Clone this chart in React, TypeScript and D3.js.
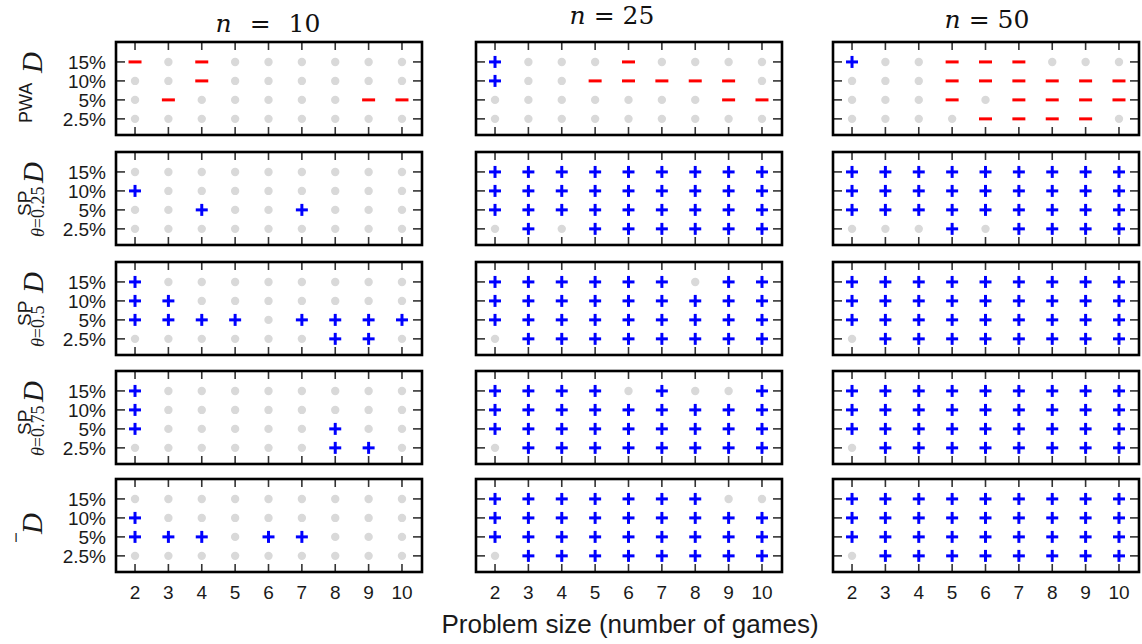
import React from "react";
import * as d3 from "d3";

// x: problem size (number of games); y: significance levels
const games = [2, 3, 4, 5, 6, 7, 8, 9, 10];
const levelsTopDown = ["15%", "10%", "5%", "2.5%"];
const sizeTitles = ["10", "25", "50"];
const xAxisTitle = "Problem size (number of games)";

// Each panel: 4 rows (15%, 10%, 5%, 2.5%), 9 columns (games 2..10)
// '+' significantly better, '-' significantly worse, '.' no significant difference
const pwaRows = [
  ["-.-......", "..-......", ".-.....--", "........."],
  ["+...-....", "+..-----.", ".......--", "........."],
  ["+..---...", "...------", "...-.----", "....----."],
];
const sp025Rows = [
  [".........", "+........", "..+..+...", "........."],
  ["+++++++++", "+++++++++", "+++++++++", ".+.++++++"],
  ["+++++++++", "+++++++++", "+++++++++", "...+.++++"],
];
const sp05Rows = [
  ["+........", "++.......", "++++.++++", "......++."],
  ["++++++.++", "+++++++++", "+++++++++", ".++++++++"],
  ["+++++++++", "+++++++++", "+++++++++", ".++++++++"],
];
const sp075Rows = [
  ["+........", "+........", "+.....+..", "......++."],
  ["++++.+..+", "+++++++++", "+++++++++", ".++++++++"],
  ["+++++++++", "+++++++++", "+++++++++", ".++++++++"],
];
const iRows = [
  [".........", "+........", "+++.++...", "........."],
  ["+++++++..", "+++++++++", "+++++++++", ".++++++++"],
  ["+++++++++", "+++++++++", "+++++++++", ".++++++++"],
];

const methods = [
  { key: "PWA", rows: pwaRows, theta: "" },
  { key: "SP", rows: sp025Rows, theta: "0.25" },
  { key: "SP", rows: sp05Rows, theta: "0.5" },
  { key: "SP", rows: sp075Rows, theta: "0.75" },
  { key: "I", rows: iRows, theta: "" },
];

const W = 1142;
const H = 644;
const panelLefts = [116, 476, 833];
const panelW = 306;
const panelTops = [42, 152, 262, 371, 479];
const panelH = 93;
const titlePos = [
  { x: 268, y: 32, ws: 10 },
  { x: 612, y: 24, ws: 0 },
  { x: 987, y: 28, ws: 0 },
];

const SANS = "'Liberation Sans', Arial, sans-serif";
const SERIF = "'Liberation Serif', 'Times New Roman', serif";
const DSERIF = "'DejaVu Serif', serif";
const BLUE = "#0000ff";
const RED = "#ff0000";
const GREY = "#d9d9d9";
const TICK = "#333";

function Panel({ left, top, rows, showY, showX }) {
  const x = d3.scaleLinear().domain([1.43, 10.6]).range([left, left + panelW]);
  const yIdx = d3.scaleLinear().domain([-0.85, 4.05]).range([top + panelH, top]);
  const rowY = (r) => yIdx(3 - r);
  return (
    <g>
      <rect x={left} y={top} width={panelW} height={panelH} fill="#fff" />
      {games.map((g) => (
        <g key={"t" + g}>
          <line x1={x(g)} x2={x(g)} y1={top} y2={top + 8} stroke={TICK} strokeWidth={1.6} />
          <line x1={x(g)} x2={x(g)} y1={top + panelH} y2={top + panelH - 8} stroke={TICK} strokeWidth={1.6} />
        </g>
      ))}
      {levelsTopDown.map((lv, r) => (
        <g key={"y" + lv}>
          <line x1={left} x2={left + 9} y1={rowY(r)} y2={rowY(r)} stroke={TICK} strokeWidth={1.6} />
          <line x1={left + panelW} x2={left + panelW - 9} y1={rowY(r)} y2={rowY(r)} stroke={TICK} strokeWidth={1.6} />
          {showY && (
            <text x={left - 10} y={rowY(r)} dy="0.35em" textAnchor="end" fontFamily={SANS} fontSize={19} fill="#1a1a1a">
              {lv}
            </text>
          )}
        </g>
      ))}
      {rows.map((row, r) =>
        games.map((g, c) => {
          const ch = row[c];
          const cx = x(g);
          const cy = rowY(r);
          if (ch === "+") {
            return (
              <g key={r + "-" + c}>
                <line x1={cx - 6} x2={cx + 6} y1={cy} y2={cy} stroke={BLUE} strokeWidth={3} />
                <line x1={cx} x2={cx} y1={cy - 6} y2={cy + 6} stroke={BLUE} strokeWidth={3} />
              </g>
            );
          }
          if (ch === "-") {
            return <line key={r + "-" + c} x1={cx - 6.5} x2={cx + 6.5} y1={cy} y2={cy} stroke={RED} strokeWidth={3} />;
          }
          return <circle key={r + "-" + c} cx={cx} cy={cy} r={4.2} fill={GREY} />;
        })
      )}
      <rect x={left} y={top} width={panelW} height={panelH} fill="none" stroke="#000" strokeWidth={2.6} />
      {showX &&
        games.map((g) => (
          <text key={"xl" + g} x={x(g)} y={top + panelH + 27} textAnchor="middle" fontFamily={SANS} fontSize={19} fill="#1a1a1a">
            {g}
          </text>
        ))}
    </g>
  );
}

function BigD({ x, y }) {
  return (
    <text transform={`translate(${x},${y}) rotate(-90)`} fontFamily={SERIF} fontStyle="italic" fontSize={29} fill="#1a1a1a">
      D
    </text>
  );
}

function RowLabel({ m, top }) {
  if (m.key === "PWA") {
    return (
      <g fill="#1a1a1a">
        <text transform={`translate(32,${top + 81}) rotate(-90)`} fontFamily={SANS} fontSize={18}>PWA</text>
        <BigD x={42} y={top + 31} />
      </g>
    );
  }
  if (m.key === "SP") {
    return (
      <g fill="#1a1a1a">
        <text transform={`translate(44,${top + 85}) rotate(-90)`} fontFamily={SERIF} fontSize={18}>
          <tspan fontStyle="italic">θ</tspan>={m.theta}
        </text>
        <text transform={`translate(31,${top + 64}) rotate(-90)`} fontFamily={SANS} fontSize={19}>SP</text>
        <BigD x={43} y={top + 31} />
      </g>
    );
  }
  return (
    <g fill="#1a1a1a">
      <text x={16} y={top + 63} textAnchor="middle" fontFamily={SANS} fontSize={13}>I</text>
      <BigD x={42} y={top + 55} />
    </g>
  );
}

export default function App() {
  return (
    <svg width={W} height={H} style={{ position: "absolute", left: 0, top: 0, background: "#fff" }}>
      <rect width={W} height={H} fill="#fff" />
      {sizeTitles.map((s, i) => (
        <text key={s} x={titlePos[i].x} y={titlePos[i].y} textAnchor="middle" fontFamily={DSERIF} fontSize={25} wordSpacing={titlePos[i].ws} fill="#111">
          <tspan fontStyle="italic">n</tspan> = {s}
        </text>
      ))}
      {methods.map((m, mi) => (
        <g key={mi}>
          <RowLabel m={m} top={panelTops[mi]} />
          {panelLefts.map((left, si) => (
            <Panel key={si} left={left} top={panelTops[mi]} rows={m.rows[si]} showY={si === 0} showX={mi === methods.length - 1} />
          ))}
        </g>
      ))}
      <text x={630} y={633} textAnchor="middle" fontFamily={SANS} fontSize={26} fill="#1a1a1a">
        {xAxisTitle}
      </text>
    </svg>
  );
}
